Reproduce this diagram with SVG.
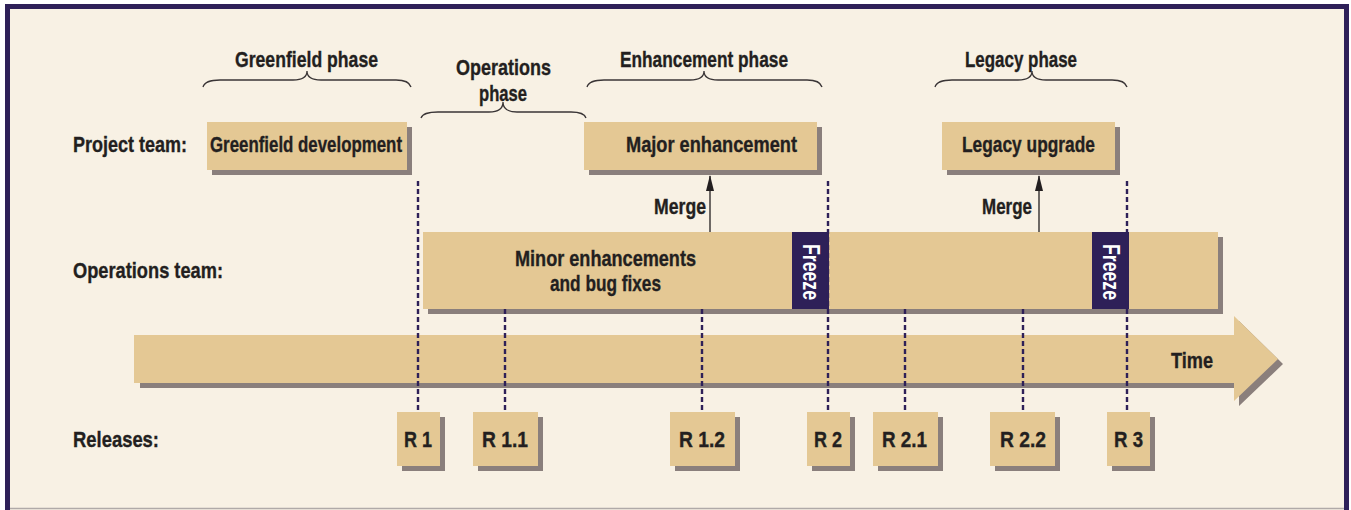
<svg xmlns="http://www.w3.org/2000/svg" width="1351" height="510" viewBox="0 0 1351 510">
  <defs>
    <style>
      .lbl { font-family: "Liberation Sans", Arial, sans-serif; font-weight: bold; font-size: 22.5px; fill: #231f20; stroke: #231f20; stroke-width: 0.35; }
      .mid { text-anchor: middle; }
      .box { fill: #e4c894; }
      .shadow { fill: #8a7f7c; }
      .brace { fill: none; stroke: #3a3536; stroke-width: 1.3; }
      .release { fill: none; stroke: #2e2058; stroke-width: 2.4; stroke-dasharray: 5 3; }
      .merge { stroke: #231f20; stroke-width: 1.3; fill: none; }
      .freeze { fill: #2e2058; }
      .freeze-txt { font-family: "Liberation Sans", Arial, sans-serif; font-weight: bold; font-size: 24px; fill: #ffffff; text-anchor: middle; }
    </style>
    <marker id="head" viewBox="0 0 10 16" refX="5" refY="1" markerWidth="10" markerHeight="16" markerUnits="userSpaceOnUse" orient="0">
      <path d="M1,16 L5,0 L9,16 Z" fill="#231f20"/>
    </marker>
  </defs>

  <!-- page and frame -->
  <rect x="0" y="0" width="1351" height="510" fill="#ffffff"/>
  <rect x="7.5" y="6.5" width="1339" height="510" fill="#f8f1e4" stroke="#2e2058" stroke-width="5"/>
  <line x1="10" y1="508.5" x2="1344" y2="508.5" stroke="#b0aaa8" stroke-width="1.5"/>

  <!-- row labels -->
  <g id="row-labels">
    <text class="lbl" x="73" y="152" textLength="114" lengthAdjust="spacingAndGlyphs">Project team:</text>
    <text class="lbl" x="73" y="278" textLength="150" lengthAdjust="spacingAndGlyphs">Operations team:</text>
    <text class="lbl" x="73" y="447" textLength="86" lengthAdjust="spacingAndGlyphs">Releases:</text>
  </g>

  <!-- phase braces -->
  <g id="phase-greenfield">
    <text class="lbl mid" x="306.5" y="67" textLength="143" lengthAdjust="spacingAndGlyphs">Greenfield phase</text>
    <path class="brace" d="M203,87 Q205,80 220,80 L293,80 Q307,80 307,71 Q307,80 321,80 L396,80 Q409,80 411,87"/>
  </g>
  <g id="phase-operations">
    <text class="lbl mid" x="503.5" y="75" textLength="95" lengthAdjust="spacingAndGlyphs">Operations</text>
    <text class="lbl mid" x="503" y="101" textLength="48" lengthAdjust="spacingAndGlyphs">phase</text>
    <path class="brace" d="M421,118 Q423,112 438,112 L489,112 Q503,112 503,102 Q503,112 517,112 L571,112 Q584,112 586,118"/>
  </g>
  <g id="phase-enhancement">
    <text class="lbl mid" x="704" y="67" textLength="168" lengthAdjust="spacingAndGlyphs">Enhancement phase</text>
    <path class="brace" d="M587,87 Q589,80 604,80 L690,80 Q704,80 704,71 Q704,80 718,80 L807,80 Q820,80 822,87"/>
  </g>
  <g id="phase-legacy">
    <text class="lbl mid" x="1021" y="67" textLength="112" lengthAdjust="spacingAndGlyphs">Legacy phase</text>
    <path class="brace" d="M935,87 Q937,80 952,80 L1018,80 Q1032,80 1032,71 Q1032,80 1046,80 L1112,80 Q1125,80 1127,87"/>
  </g>

  <!-- project team work -->
  <g id="greenfield-development">
    <rect class="shadow" x="212" y="127" width="200" height="48"/>
    <rect class="box" x="207" y="122" width="200" height="48"/>
    <text class="lbl mid" x="306" y="152" textLength="192" lengthAdjust="spacingAndGlyphs">Greenfield development</text>
  </g>
  <g id="major-enhancement">
    <rect class="shadow" x="589" y="127" width="233" height="48"/>
    <rect class="box" x="584" y="122" width="233" height="48"/>
    <text class="lbl mid" x="711.5" y="152" textLength="171" lengthAdjust="spacingAndGlyphs">Major enhancement</text>
  </g>
  <g id="legacy-upgrade">
    <rect class="shadow" x="947" y="127" width="173" height="48"/>
    <rect class="box" x="942" y="122" width="173" height="48"/>
    <text class="lbl mid" x="1028.5" y="152" textLength="133" lengthAdjust="spacingAndGlyphs">Legacy upgrade</text>
  </g>

  <!-- operations team work -->
  <g id="operations">
    <rect class="shadow" x="428" y="237" width="795" height="77"/>
    <rect class="box" x="423" y="232" width="795" height="77"/>
    <text class="lbl mid" x="605.5" y="266" textLength="181" lengthAdjust="spacingAndGlyphs">Minor enhancements</text>
    <text class="lbl mid" x="605.5" y="291" textLength="111" lengthAdjust="spacingAndGlyphs">and bug fixes</text>
  </g>

  <!-- time axis -->
  <g id="time-axis">
    <polygon class="shadow" points="140,340 1239,340 1239,321 1283,364 1239,406 1239,388 140,388"/>
    <polygon class="box" points="134,335 1234,335 1234,316 1278,359 1234,401 1234,383 134,383"/>
    <text class="lbl" x="1171" y="368" textLength="42" lengthAdjust="spacingAndGlyphs">Time</text>
  </g>

  <!-- releases -->
  <g id="release-r1">
    <rect class="shadow" x="402" y="417" width="43" height="54"/>
    <rect class="box" x="397" y="412" width="43" height="54"/>
    <text class="lbl mid" x="418" y="447" textLength="28" lengthAdjust="spacingAndGlyphs">R 1</text>
  </g>
  <g id="release-r1-1">
    <rect class="shadow" x="478" y="417" width="65" height="54"/>
    <rect class="box" x="473" y="412" width="65" height="54"/>
    <text class="lbl mid" x="505" y="447" textLength="46" lengthAdjust="spacingAndGlyphs">R 1.1</text>
  </g>
  <g id="release-r1-2">
    <rect class="shadow" x="675" y="417" width="65" height="54"/>
    <rect class="box" x="670" y="412" width="65" height="54"/>
    <text class="lbl mid" x="702" y="447" textLength="46" lengthAdjust="spacingAndGlyphs">R 1.2</text>
  </g>
  <g id="release-r2">
    <rect class="shadow" x="812" y="417" width="43" height="54"/>
    <rect class="box" x="807" y="412" width="43" height="54"/>
    <text class="lbl mid" x="828" y="447" textLength="28" lengthAdjust="spacingAndGlyphs">R 2</text>
  </g>
  <g id="release-r2-1">
    <rect class="shadow" x="878" y="417" width="65" height="54"/>
    <rect class="box" x="873" y="412" width="65" height="54"/>
    <text class="lbl mid" x="904.5" y="447" textLength="45" lengthAdjust="spacingAndGlyphs">R 2.1</text>
  </g>
  <g id="release-r2-2">
    <rect class="shadow" x="995" y="417" width="65" height="54"/>
    <rect class="box" x="990" y="412" width="65" height="54"/>
    <text class="lbl mid" x="1023" y="447" textLength="46" lengthAdjust="spacingAndGlyphs">R 2.2</text>
  </g>
  <g id="release-r3">
    <rect class="shadow" x="1112" y="417" width="43" height="54"/>
    <rect class="box" x="1107" y="412" width="43" height="54"/>
    <text class="lbl mid" x="1128.5" y="447" textLength="29" lengthAdjust="spacingAndGlyphs">R 3</text>
  </g>

  <!-- freeze periods -->
  <g id="freeze-1">
    <rect class="freeze" x="792" y="232" width="37" height="77"/>
    <text class="freeze-txt" transform="translate(803,272) rotate(90)" textLength="56" lengthAdjust="spacingAndGlyphs">Freeze</text>
  </g>
  <g id="freeze-2">
    <rect class="freeze" x="1092" y="232" width="37" height="77"/>
    <text class="freeze-txt" transform="translate(1103,272) rotate(90)" textLength="56" lengthAdjust="spacingAndGlyphs">Freeze</text>
  </g>

  <!-- connectors -->
  <g id="connectors">
    <line class="release" x1="418" y1="181" x2="418" y2="411"/>
    <line class="release" x1="505" y1="309" x2="505" y2="411"/>
    <line class="release" x1="702" y1="309" x2="702" y2="411"/>
    <line class="release" x1="828" y1="181" x2="828" y2="411"/>
    <line class="release" x1="905" y1="309" x2="905" y2="411"/>
    <line class="release" x1="1023" y1="309" x2="1023" y2="411"/>
    <line class="release" x1="1127" y1="181" x2="1127" y2="411"/>
    <line class="merge" x1="710" y1="232" x2="710" y2="176" marker-end="url(#head)"/>
    <line class="merge" x1="1039" y1="232" x2="1039" y2="176" marker-end="url(#head)"/>
    <text class="lbl" x="706" y="214" text-anchor="end" textLength="52" lengthAdjust="spacingAndGlyphs">Merge</text>
    <text class="lbl" x="1032" y="214" text-anchor="end" textLength="50" lengthAdjust="spacingAndGlyphs">Merge</text>
  </g>
</svg>
